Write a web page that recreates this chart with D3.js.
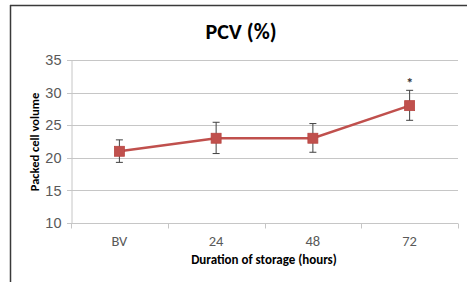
<!DOCTYPE html>
<html>
<head>
<meta charset="utf-8">
<script src="https://cdn.jsdelivr.net/npm/d3@7"></script>
<style>
  html, body { margin: 0; padding: 0; background: #fff; }
  svg { display: block; font-family: Carlito, "Open Sans", "Noto Sans", sans-serif; }
</style>
</head>
<body>
<svg id="chart" width="467" height="282"></svg>
<script>
// Data
const categories = ['BV', '24', '48', '72'];
const pcv = [21, 23, 23, 28];
const errUp = [1.75, 2.45, 2.25, 2.35];
const errDown = [1.7, 2.35, 2.15, 2.25];
const marks = ['', '', '', '*'];
const yTicks = [10, 15, 20, 25, 30, 35];

const margin = { top: 60, right: 9, bottom: 59, left: 71 };
const width = 467, height = 282;

const svg = d3.select('#chart');

// frame lines (top and left)
svg.append('line').attr('x1', 10).attr('x2', width).attr('y1', 5.5).attr('y2', 5.5)
  .attr('stroke', '#3a3a3a').attr('stroke-width', 1.5);
svg.append('line').attr('x1', 10.5).attr('x2', 10.5).attr('y1', 5).attr('y2', height)
  .attr('stroke', '#3a3a3a').attr('stroke-width', 1.5);

const x = d3.scaleBand()
  .domain(categories)
  .range([margin.left, width - margin.right]);

const y = d3.scaleLinear()
  .domain([10, 35])
  .range([height - margin.bottom, margin.top]);

// gridlines
svg.append('g')
  .selectAll('line')
  .data(yTicks)
  .join('line')
  .attr('x1', margin.left - 4)
  .attr('x2', width - margin.right)
  .attr('y1', d => Math.round(y(d)) + 0.5)
  .attr('y2', d => Math.round(y(d)) + 0.5)
  .attr('stroke', '#c6c6c6')
  .attr('stroke-width', 1);

// y axis
const yAxis = svg.append('g')
  .attr('transform', 'translate(' + (margin.left + 0.5) + ',0)')
  .call(d3.axisLeft(y).tickValues(yTicks).tickSize(0).tickPadding(10));
yAxis.select('.domain').attr('stroke', '#c6c6c6');
yAxis.selectAll('text').attr('fill', '#595959').attr('font-size', 14.5);

// x axis
const xTickPos = categories.map(c => x(c)).concat([width - margin.right]);
const xAxis = svg.append('g')
  .attr('transform', 'translate(0,' + (Math.round(y(10)) + 0.5) + ')');
xAxis.append('line')
  .attr('x1', margin.left).attr('x2', width - margin.right)
  .attr('stroke', '#c6c6c6');
xAxis.selectAll('line.tick')
  .data(xTickPos)
  .join('line')
  .attr('class', 'tick')
  .attr('x1', d => Math.round(d) + 0.5).attr('x2', d => Math.round(d) + 0.5)
  .attr('y1', 0).attr('y2', 5)
  .attr('stroke', '#c6c6c6');
xAxis.selectAll('text')
  .data(categories)
  .join('text')
  .attr('x', d => x(d) + x.bandwidth() / 2)
  .attr('y', 22)
  .attr('text-anchor', 'middle')
  .attr('fill', '#595959')
  .attr('font-size', 14.5)
  .text(d => d);

const cx = (d, i) => x(categories[i]) + x.bandwidth() / 2;

// error bars
const eb = svg.append('g').attr('stroke', '#404040').attr('stroke-width', 1);
eb.selectAll('line.v')
  .data(pcv)
  .join('line')
  .attr('class', 'v')
  .attr('x1', cx).attr('x2', cx)
  .attr('y1', (d, i) => y(d + errUp[i]))
  .attr('y2', (d, i) => y(d - errDown[i]));
eb.selectAll('line.top')
  .data(pcv)
  .join('line')
  .attr('class', 'top')
  .attr('x1', (d, i) => cx(d, i) - 3.5).attr('x2', (d, i) => cx(d, i) + 3.5)
  .attr('y1', (d, i) => y(d + errUp[i])).attr('y2', (d, i) => y(d + errUp[i]));
eb.selectAll('line.bot')
  .data(pcv)
  .join('line')
  .attr('class', 'bot')
  .attr('x1', (d, i) => cx(d, i) - 3.5).attr('x2', (d, i) => cx(d, i) + 3.5)
  .attr('y1', (d, i) => y(d - errDown[i])).attr('y2', (d, i) => y(d - errDown[i]));

// line
const line = d3.line()
  .x((d, i) => cx(d, i))
  .y(d => y(d));
svg.append('path')
  .datum(pcv)
  .attr('d', line)
  .attr('fill', 'none')
  .attr('stroke', '#c0504d')
  .attr('stroke-width', 2.5);

// markers
svg.append('g')
  .selectAll('rect')
  .data(pcv)
  .join('rect')
  .attr('x', (d, i) => cx(d, i) - 5)
  .attr('y', d => y(d) - 5)
  .attr('width', 10)
  .attr('height', 10)
  .attr('fill', '#c0504d')
  .attr('stroke', '#b8433f')
  .attr('stroke-width', 0.75);

// significance marks
svg.append('g')
  .selectAll('text')
  .data(marks)
  .join('text')
  .attr('x', (d, i) => cx(d, i))
  .attr('y', (d, i) => y(pcv[i] + errUp[i]) - 2)
  .attr('text-anchor', 'middle')
  .attr('font-size', 14)
  .attr('font-weight', 'bold')
  .attr('fill', '#333')
  .text(d => d);

// title
svg.append('text')
  .attr('x', 241).attr('y', 39)
  .attr('text-anchor', 'middle')
  .attr('font-size', 22)
  .attr('font-weight', 'bold')
  .attr('fill', '#000')
  .text('PCV (%)');

// axis titles
svg.append('text')
  .attr('x', 264).attr('y', 264)
  .attr('text-anchor', 'middle')
  .attr('font-size', 13)
  .attr('font-weight', 'bold')
  .attr('fill', '#000')
  .text('Duration of storage (hours)');

svg.append('text')
  .attr('transform', 'translate(39,142) rotate(-90)')
  .attr('text-anchor', 'middle')
  .attr('font-size', 12.5)
  .attr('font-weight', 'bold')
  .attr('fill', '#000')
  .text('Packed cell volume');
</script>
</body>
</html>
